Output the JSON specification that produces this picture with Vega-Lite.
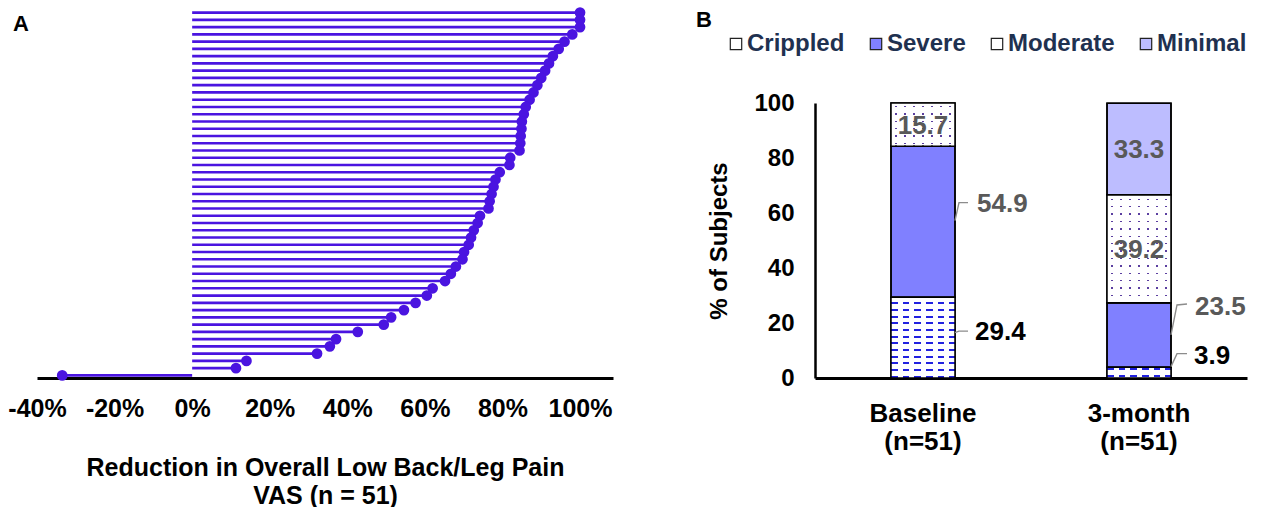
{
  "$schema": "https://vega.github.io/schema/vega-lite/v6.json",
  "background": "white",
  "padding": {"left": 7, "top": 7, "right": 5, "bottom": 5},
  "config": {
    "font": "Liberation Sans",
    "view": {"stroke": null},
    "axis": {"labelFont": "Liberation Sans", "titleFont": "Liberation Sans"},
    "legend": {"labelFont": "Liberation Sans"},
    "title": {"font": "Liberation Sans"}
  },
  "spacing": 83,
  "hconcat": [
    {
      "width": 576,
      "height": 368,
      "title": {"text": "A", "anchor": "start", "frame": "group", "dx": -24, "offset": -29, "fontSize": 22, "fontWeight": "bold", "color": "black"},
      "data": {"values": [
        {"subject": "s01", "reduction": 1.0},
        {"subject": "s02", "reduction": 1.0},
        {"subject": "s03", "reduction": 1.0},
        {"subject": "s04", "reduction": 0.98},
        {"subject": "s05", "reduction": 0.96},
        {"subject": "s06", "reduction": 0.945},
        {"subject": "s07", "reduction": 0.93},
        {"subject": "s08", "reduction": 0.92},
        {"subject": "s09", "reduction": 0.91},
        {"subject": "s10", "reduction": 0.90},
        {"subject": "s11", "reduction": 0.89},
        {"subject": "s12", "reduction": 0.88},
        {"subject": "s13", "reduction": 0.87},
        {"subject": "s14", "reduction": 0.86},
        {"subject": "s15", "reduction": 0.855},
        {"subject": "s16", "reduction": 0.85},
        {"subject": "s17", "reduction": 0.849},
        {"subject": "s18", "reduction": 0.847},
        {"subject": "s19", "reduction": 0.846},
        {"subject": "s20", "reduction": 0.844},
        {"subject": "s21", "reduction": 0.82},
        {"subject": "s22", "reduction": 0.818},
        {"subject": "s23", "reduction": 0.793},
        {"subject": "s24", "reduction": 0.782},
        {"subject": "s25", "reduction": 0.777},
        {"subject": "s26", "reduction": 0.772},
        {"subject": "s27", "reduction": 0.767},
        {"subject": "s28", "reduction": 0.764},
        {"subject": "s29", "reduction": 0.742},
        {"subject": "s30", "reduction": 0.736},
        {"subject": "s31", "reduction": 0.726},
        {"subject": "s32", "reduction": 0.719},
        {"subject": "s33", "reduction": 0.713},
        {"subject": "s34", "reduction": 0.701},
        {"subject": "s35", "reduction": 0.697},
        {"subject": "s36", "reduction": 0.68},
        {"subject": "s37", "reduction": 0.667},
        {"subject": "s38", "reduction": 0.652},
        {"subject": "s39", "reduction": 0.62},
        {"subject": "s40", "reduction": 0.605},
        {"subject": "s41", "reduction": 0.576},
        {"subject": "s42", "reduction": 0.546},
        {"subject": "s43", "reduction": 0.513},
        {"subject": "s44", "reduction": 0.494},
        {"subject": "s45", "reduction": 0.427},
        {"subject": "s46", "reduction": 0.371},
        {"subject": "s47", "reduction": 0.355},
        {"subject": "s48", "reduction": 0.322},
        {"subject": "s49", "reduction": 0.14},
        {"subject": "s50", "reduction": 0.113},
        {"subject": "s51", "reduction": -0.335}
      ]},
      "encoding": {
        "x": {
          "field": "reduction",
          "type": "quantitative",
          "scale": {"domain": [-0.4, 1.085], "nice": false, "zero": false},
          "axis": {
            "values": [-0.4, -0.2, 0, 0.2, 0.4, 0.6, 0.8, 1.0],
            "labelExpr": "round(datum.value * 100) + '%'",
            "labelFontSize": 25,
            "labelFontWeight": "bold",
            "labelColor": "black",
            "labelPadding": 18,
            "labelFlush": false,
            "labelOverlap": false,
            "ticks": false,
            "grid": false,
            "domainColor": "black",
            "domainWidth": 3,
            "title": ["Reduction in Overall Low Back/Leg Pain", "VAS (n = 51)"],
            "titleFontSize": 25,
            "titleFontWeight": "bold",
            "titleColor": "black",
            "titlePadding": 34,
            "titleLineHeight": 28
          }
        }
      },
      "layer": [
        {
          "mark": {"type": "rule", "color": "#4A14E0", "strokeWidth": 2.6},
          "encoding": {
            "x2": {"datum": 0},
            "y": {"field": "subject", "type": "ordinal", "sort": {"field": "reduction", "op": "max", "order": "descending"}, "scale": {"type": "point", "padding": 0.36}, "axis": null}
          }
        },
        {
          "mark": {"type": "circle", "color": "#4A14E0", "size": 115, "opacity": 1},
          "encoding": {
            "y": {"field": "subject", "type": "ordinal", "sort": {"field": "reduction", "op": "max", "order": "descending"}, "scale": {"type": "point", "padding": 0.36}, "axis": null}
          }
        },
        {
          "data": {"values": [{"zero": 0}]},
          "mark": {"type": "rule", "color": "black", "strokeWidth": 2.6},
          "encoding": {"x": {"datum": 0}}
        }
      ]
    },
    {
      "width": 432,
      "height": 368,
      "title": {"text": "B", "anchor": "start", "frame": "group", "dx": -119, "offset": -22, "fontSize": 22, "fontWeight": "bold", "color": "black"},
      "data": {"values": [
        {"time": "Baseline", "cat": "Crippled", "level": 4, "pct": 29.4},
        {"time": "Baseline", "cat": "Severe", "level": 3, "pct": 54.9},
        {"time": "Baseline", "cat": "Moderate", "level": 2, "pct": 15.7},
        {"time": "3-month", "cat": "Crippled", "level": 4, "pct": 3.9},
        {"time": "3-month", "cat": "Severe", "level": 3, "pct": 23.5},
        {"time": "3-month", "cat": "Moderate", "level": 2, "pct": 39.2},
        {"time": "3-month", "cat": "Minimal", "level": 1, "pct": 33.3}
      ]},
      "encoding": {
        "x": {
          "field": "time",
          "type": "nominal",
          "sort": ["Baseline", "3-month"],
          "scale": {"paddingInner": 0, "paddingOuter": 0},
          "axis": {
            "title": null,
            "labelExpr": "[datum.label, '(n=51)']",
            "labelAngle": 0,
            "labelFontSize": 26,
            "labelFontWeight": "bold",
            "labelColor": "black",
            "labelPadding": 22,
            "labelLineHeight": 28,
            "ticks": false,
            "domainColor": "black",
            "domainWidth": 3
          }
        },
        "y": {
          "field": "pct",
          "type": "quantitative",
          "stack": "zero",
          "title": "% of Subjects",
          "scale": {"domain": [0, 100], "nice": false, "range": [368, 93]},
          "axis": {
            "values": [0, 20, 40, 60, 80, 100],
            "labelFontSize": 24,
            "labelFontWeight": "bold",
            "labelColor": "black",
            "labelPadding": 21,
            "ticks": false,
            "grid": false,
            "domainColor": "black",
            "domainWidth": 2.5,
            "titleFontSize": 24,
            "titleFontWeight": "bold",
            "titleColor": "black",
            "titlePadding": 22
          }
        },
        "color": {
          "field": "cat",
          "type": "nominal",
          "scale": {"domain": ["Crippled", "Severe", "Moderate", "Minimal"], "range": ["#FFFFFF", "#8080FF", "#FFFFFF", "#BDBDFF"]},
          "legend": {
            "orient": "none",
            "legendX": 687,
            "legendY": 22,
            "direction": "horizontal",
            "title": null,
            "gridAlign": "none",
            "symbolType": "square",
            "symbolSize": 130,
            "symbolStrokeColor": "#222222",
            "symbolStrokeWidth": 1.2,
            "labelFontSize": 24,
            "labelFontWeight": "bold",
            "labelColor": "#1F3150",
            "columnPadding": 19,
            "labelOffset": -1
          }
        },
        "order": {"field": "level", "type": "quantitative", "sort": "descending"}
      },
      "layer": [
        {
          "mark": {"type": "bar", "size": 64, "stroke": "black", "strokeWidth": 1.5}
        },
        {
          "mark": {"type": "bar", "size": 64},
          "encoding": {
            "fill": {
              "condition": [
                {"test": "datum.time === 'Baseline' && datum.cat === 'Crippled'", "value": {"gradient": "linear", "x1": 0, "y1": 0, "x2": 0, "y2": 1, "stops": [
                  {"offset": 0, "color": "#FFFFFF"},
                  {"offset": 0.0656, "color": "#FFFFFF"}, {"offset": 0.0656, "color": "#2222E0"}, {"offset": 0.0878, "color": "#2222E0"}, {"offset": 0.0878, "color": "#FFFFFF"},
                  {"offset": 0.1481, "color": "#FFFFFF"}, {"offset": 0.1481, "color": "#2222E0"}, {"offset": 0.1703, "color": "#2222E0"}, {"offset": 0.1703, "color": "#FFFFFF"},
                  {"offset": 0.2306, "color": "#FFFFFF"}, {"offset": 0.2306, "color": "#2222E0"}, {"offset": 0.2528, "color": "#2222E0"}, {"offset": 0.2528, "color": "#FFFFFF"},
                  {"offset": 0.3131, "color": "#FFFFFF"}, {"offset": 0.3131, "color": "#2222E0"}, {"offset": 0.3353, "color": "#2222E0"}, {"offset": 0.3353, "color": "#FFFFFF"},
                  {"offset": 0.3956, "color": "#FFFFFF"}, {"offset": 0.3956, "color": "#2222E0"}, {"offset": 0.4178, "color": "#2222E0"}, {"offset": 0.4178, "color": "#FFFFFF"},
                  {"offset": 0.4781, "color": "#FFFFFF"}, {"offset": 0.4781, "color": "#2222E0"}, {"offset": 0.5003, "color": "#2222E0"}, {"offset": 0.5003, "color": "#FFFFFF"},
                  {"offset": 0.5606, "color": "#FFFFFF"}, {"offset": 0.5606, "color": "#2222E0"}, {"offset": 0.5828, "color": "#2222E0"}, {"offset": 0.5828, "color": "#FFFFFF"},
                  {"offset": 0.6431, "color": "#FFFFFF"}, {"offset": 0.6431, "color": "#2222E0"}, {"offset": 0.6653, "color": "#2222E0"}, {"offset": 0.6653, "color": "#FFFFFF"},
                  {"offset": 0.7256, "color": "#FFFFFF"}, {"offset": 0.7256, "color": "#2222E0"}, {"offset": 0.7478, "color": "#2222E0"}, {"offset": 0.7478, "color": "#FFFFFF"},
                  {"offset": 0.8081, "color": "#FFFFFF"}, {"offset": 0.8081, "color": "#2222E0"}, {"offset": 0.8303, "color": "#2222E0"}, {"offset": 0.8303, "color": "#FFFFFF"},
                  {"offset": 0.8906, "color": "#FFFFFF"}, {"offset": 0.8906, "color": "#2222E0"}, {"offset": 0.9128, "color": "#2222E0"}, {"offset": 0.9128, "color": "#FFFFFF"},
                  {"offset": 0.9731, "color": "#FFFFFF"}, {"offset": 0.9731, "color": "#2222E0"}, {"offset": 0.9953, "color": "#2222E0"}, {"offset": 0.9953, "color": "#FFFFFF"},
                  {"offset": 1, "color": "#FFFFFF"}
                ]}},
                {"test": "datum.time === '3-month' && datum.cat === 'Crippled'", "value": {"gradient": "linear", "x1": 0, "y1": 0, "x2": 0, "y2": 1, "stops": [
                  {"offset": 0, "color": "#FFFFFF"},
                  {"offset": 0.0746, "color": "#FFFFFF"}, {"offset": 0.0746, "color": "#2222E0"}, {"offset": 0.2424, "color": "#2222E0"}, {"offset": 0.2424, "color": "#FFFFFF"},
                  {"offset": 0.6993, "color": "#FFFFFF"}, {"offset": 0.6993, "color": "#2222E0"}, {"offset": 0.8671, "color": "#2222E0"}, {"offset": 0.8671, "color": "#FFFFFF"},
                  {"offset": 1, "color": "#FFFFFF"}
                ]}},
                {"test": "datum.time === 'Baseline' && datum.cat === 'Moderate'", "value": {"gradient": "linear", "x1": 0, "y1": 0, "x2": 0, "y2": 1, "stops": [
                  {"offset": 0, "color": "#FFFFFF"},
                  {"offset": 0.0649, "color": "#FFFFFF"}, {"offset": 0.0649, "color": "#5B3FA0"}, {"offset": 0.0973, "color": "#5B3FA0"}, {"offset": 0.0973, "color": "#FFFFFF"},
                  {"offset": 0.2362, "color": "#FFFFFF"}, {"offset": 0.2362, "color": "#5B3FA0"}, {"offset": 0.2687, "color": "#5B3FA0"}, {"offset": 0.2687, "color": "#FFFFFF"},
                  {"offset": 0.4076, "color": "#FFFFFF"}, {"offset": 0.4076, "color": "#5B3FA0"}, {"offset": 0.4401, "color": "#5B3FA0"}, {"offset": 0.4401, "color": "#FFFFFF"},
                  {"offset": 0.5790, "color": "#FFFFFF"}, {"offset": 0.5790, "color": "#5B3FA0"}, {"offset": 0.6115, "color": "#5B3FA0"}, {"offset": 0.6115, "color": "#FFFFFF"},
                  {"offset": 0.7504, "color": "#FFFFFF"}, {"offset": 0.7504, "color": "#5B3FA0"}, {"offset": 0.7829, "color": "#5B3FA0"}, {"offset": 0.7829, "color": "#FFFFFF"},
                  {"offset": 0.9218, "color": "#FFFFFF"}, {"offset": 0.9218, "color": "#5B3FA0"}, {"offset": 0.9543, "color": "#5B3FA0"}, {"offset": 0.9543, "color": "#FFFFFF"},
                  {"offset": 1, "color": "#FFFFFF"}
                ]}},
                {"test": "datum.time === '3-month' && datum.cat === 'Moderate'", "value": {"gradient": "linear", "x1": 0, "y1": 0, "x2": 0, "y2": 1, "stops": [
                  {"offset": 0, "color": "#FFFFFF"},
                  {"offset": 0.0353, "color": "#FFFFFF"}, {"offset": 0.0353, "color": "#5B3FA0"}, {"offset": 0.0482, "color": "#5B3FA0"}, {"offset": 0.0482, "color": "#FFFFFF"},
                  {"offset": 0.1039, "color": "#FFFFFF"}, {"offset": 0.1039, "color": "#5B3FA0"}, {"offset": 0.1169, "color": "#5B3FA0"}, {"offset": 0.1169, "color": "#FFFFFF"},
                  {"offset": 0.1725, "color": "#FFFFFF"}, {"offset": 0.1725, "color": "#5B3FA0"}, {"offset": 0.1855, "color": "#5B3FA0"}, {"offset": 0.1855, "color": "#FFFFFF"},
                  {"offset": 0.2412, "color": "#FFFFFF"}, {"offset": 0.2412, "color": "#5B3FA0"}, {"offset": 0.2542, "color": "#5B3FA0"}, {"offset": 0.2542, "color": "#FFFFFF"},
                  {"offset": 0.3098, "color": "#FFFFFF"}, {"offset": 0.3098, "color": "#5B3FA0"}, {"offset": 0.3228, "color": "#5B3FA0"}, {"offset": 0.3228, "color": "#FFFFFF"},
                  {"offset": 0.3785, "color": "#FFFFFF"}, {"offset": 0.3785, "color": "#5B3FA0"}, {"offset": 0.3915, "color": "#5B3FA0"}, {"offset": 0.3915, "color": "#FFFFFF"},
                  {"offset": 0.4471, "color": "#FFFFFF"}, {"offset": 0.4471, "color": "#5B3FA0"}, {"offset": 0.4601, "color": "#5B3FA0"}, {"offset": 0.4601, "color": "#FFFFFF"},
                  {"offset": 0.5158, "color": "#FFFFFF"}, {"offset": 0.5158, "color": "#5B3FA0"}, {"offset": 0.5288, "color": "#5B3FA0"}, {"offset": 0.5288, "color": "#FFFFFF"},
                  {"offset": 0.5844, "color": "#FFFFFF"}, {"offset": 0.5844, "color": "#5B3FA0"}, {"offset": 0.5974, "color": "#5B3FA0"}, {"offset": 0.5974, "color": "#FFFFFF"},
                  {"offset": 0.6531, "color": "#FFFFFF"}, {"offset": 0.6531, "color": "#5B3FA0"}, {"offset": 0.6660, "color": "#5B3FA0"}, {"offset": 0.6660, "color": "#FFFFFF"},
                  {"offset": 0.7217, "color": "#FFFFFF"}, {"offset": 0.7217, "color": "#5B3FA0"}, {"offset": 0.7347, "color": "#5B3FA0"}, {"offset": 0.7347, "color": "#FFFFFF"},
                  {"offset": 0.7904, "color": "#FFFFFF"}, {"offset": 0.7904, "color": "#5B3FA0"}, {"offset": 0.8033, "color": "#5B3FA0"}, {"offset": 0.8033, "color": "#FFFFFF"},
                  {"offset": 0.8590, "color": "#FFFFFF"}, {"offset": 0.8590, "color": "#5B3FA0"}, {"offset": 0.8720, "color": "#5B3FA0"}, {"offset": 0.8720, "color": "#FFFFFF"},
                  {"offset": 0.9276, "color": "#FFFFFF"}, {"offset": 0.9276, "color": "#5B3FA0"}, {"offset": 0.9406, "color": "#5B3FA0"}, {"offset": 0.9406, "color": "#FFFFFF"},
                  {"offset": 1, "color": "#FFFFFF"}
                ]}}
              ],
              "value": "transparent"
            }
          }
        },
        {
          "mark": {"type": "bar", "size": 64, "stroke": "black", "strokeWidth": 1.5},
          "encoding": {
            "fill": {
              "condition": [
                {"test": "datum.cat === 'Crippled'", "value": {"gradient": "linear", "x1": 0, "y1": 0, "x2": 1, "y2": 0, "stops": [
                  {"offset": 0, "color": "rgba(255,255,255,0)"}, {"offset": 0.1042, "color": "rgba(255,255,255,0)"},
                  {"offset": 0.1042, "color": "#FFFFFF"}, {"offset": 0.1823, "color": "#FFFFFF"},
                  {"offset": 0.1823, "color": "rgba(255,255,255,0)"}, {"offset": 0.2865, "color": "rgba(255,255,255,0)"},
                  {"offset": 0.2865, "color": "#FFFFFF"}, {"offset": 0.3646, "color": "#FFFFFF"},
                  {"offset": 0.3646, "color": "rgba(255,255,255,0)"}, {"offset": 0.4688, "color": "rgba(255,255,255,0)"},
                  {"offset": 0.4688, "color": "#FFFFFF"}, {"offset": 0.5469, "color": "#FFFFFF"},
                  {"offset": 0.5469, "color": "rgba(255,255,255,0)"}, {"offset": 0.6510, "color": "rgba(255,255,255,0)"},
                  {"offset": 0.6510, "color": "#FFFFFF"}, {"offset": 0.7292, "color": "#FFFFFF"},
                  {"offset": 0.7292, "color": "rgba(255,255,255,0)"}, {"offset": 0.8333, "color": "rgba(255,255,255,0)"},
                  {"offset": 0.8333, "color": "#FFFFFF"}, {"offset": 0.9115, "color": "#FFFFFF"},
                  {"offset": 0.9115, "color": "rgba(255,255,255,0)"}, {"offset": 1, "color": "rgba(255,255,255,0)"}
                ]}},
                {"test": "datum.cat === 'Moderate'", "value": {"gradient": "linear", "x1": 0, "y1": 0, "x2": 1, "y2": 0, "stops": [
                  {"offset": 0, "color": "#FFFFFF"}, {"offset": 0.0672, "color": "#FFFFFF"},
                  {"offset": 0.0672, "color": "rgba(255,255,255,0)"}, {"offset": 0.0891, "color": "rgba(255,255,255,0)"},
                  {"offset": 0.0891, "color": "#FFFFFF"}, {"offset": 0.2078, "color": "#FFFFFF"},
                  {"offset": 0.2078, "color": "rgba(255,255,255,0)"}, {"offset": 0.2297, "color": "rgba(255,255,255,0)"},
                  {"offset": 0.2297, "color": "#FFFFFF"}, {"offset": 0.3484, "color": "#FFFFFF"},
                  {"offset": 0.3484, "color": "rgba(255,255,255,0)"}, {"offset": 0.3703, "color": "rgba(255,255,255,0)"},
                  {"offset": 0.3703, "color": "#FFFFFF"}, {"offset": 0.4891, "color": "#FFFFFF"},
                  {"offset": 0.4891, "color": "rgba(255,255,255,0)"}, {"offset": 0.5109, "color": "rgba(255,255,255,0)"},
                  {"offset": 0.5109, "color": "#FFFFFF"}, {"offset": 0.6297, "color": "#FFFFFF"},
                  {"offset": 0.6297, "color": "rgba(255,255,255,0)"}, {"offset": 0.6516, "color": "rgba(255,255,255,0)"},
                  {"offset": 0.6516, "color": "#FFFFFF"}, {"offset": 0.7703, "color": "#FFFFFF"},
                  {"offset": 0.7703, "color": "rgba(255,255,255,0)"}, {"offset": 0.7922, "color": "rgba(255,255,255,0)"},
                  {"offset": 0.7922, "color": "#FFFFFF"}, {"offset": 0.9109, "color": "#FFFFFF"},
                  {"offset": 0.9109, "color": "rgba(255,255,255,0)"}, {"offset": 0.9328, "color": "rgba(255,255,255,0)"},
                  {"offset": 0.9328, "color": "#FFFFFF"}, {"offset": 1, "color": "#FFFFFF"}
                ]}}
              ],
              "value": "transparent"
            }
          }
        },
        {
          "mark": {"type": "text", "fontSize": 26, "fontWeight": "bold", "baseline": "middle", "align": "center", "dy": 1},
          "encoding": {
            "y": {"field": "pct", "type": "quantitative", "stack": "zero", "bandPosition": 0.5, "title": "% of Subjects"},
            "fill": {"value": "#595959"},
            "text": {"condition": {"test": "(datum.time === 'Baseline' && datum.cat === 'Moderate') || (datum.time === '3-month' && (datum.cat === 'Moderate' || datum.cat === 'Minimal'))", "field": "pct", "type": "quantitative", "format": ".1f"}, "value": ""}
          }
        },
        {
          "mark": {"type": "text", "fontSize": 26, "fontWeight": "bold", "baseline": "middle", "align": "left", "dx": 54, "dy": -18},
          "encoding": {
            "y": {"field": "pct", "type": "quantitative", "stack": "zero", "bandPosition": 0.5, "title": "% of Subjects"},
            "fill": {"value": "#595959"},
            "text": {"condition": {"test": "datum.time === 'Baseline' && datum.cat === 'Severe'", "field": "pct", "type": "quantitative", "format": ".1f"}, "value": ""}
          }
        },
        {
          "mark": {"type": "text", "fontSize": 26, "fontWeight": "bold", "baseline": "middle", "align": "left", "dx": 52, "dy": -6},
          "encoding": {
            "y": {"field": "pct", "type": "quantitative", "stack": "zero", "bandPosition": 0.5, "title": "% of Subjects"},
            "fill": {"value": "#000000"},
            "text": {"condition": {"test": "datum.time === 'Baseline' && datum.cat === 'Crippled'", "field": "pct", "type": "quantitative", "format": ".1f"}, "value": ""}
          }
        },
        {
          "mark": {"type": "text", "fontSize": 26, "fontWeight": "bold", "baseline": "middle", "align": "left", "dx": 56, "dy": -28},
          "encoding": {
            "y": {"field": "pct", "type": "quantitative", "stack": "zero", "bandPosition": 0.5, "title": "% of Subjects"},
            "fill": {"value": "#595959"},
            "text": {"condition": {"test": "datum.time === '3-month' && datum.cat === 'Severe'", "field": "pct", "type": "quantitative", "format": ".1f"}, "value": ""}
          }
        },
        {
          "mark": {"type": "text", "fontSize": 26, "fontWeight": "bold", "baseline": "middle", "align": "left", "dx": 55, "dy": -17},
          "encoding": {
            "y": {"field": "pct", "type": "quantitative", "stack": "zero", "bandPosition": 0.5, "title": "% of Subjects"},
            "fill": {"value": "#000000"},
            "text": {"condition": {"test": "datum.time === '3-month' && datum.cat === 'Crippled'", "field": "pct", "type": "quantitative", "format": ".1f"}, "value": ""}
          }
        },
        {
          "mark": {"type": "point", "filled": false, "size": 4, "strokeWidth": 1.4, "xOffset": 32, "opacity": 1},
          "encoding": {
            "y": {"field": "pct", "type": "quantitative", "stack": "zero", "bandPosition": 0.5, "title": "% of Subjects"},
            "stroke": {"value": "#8C8C8C"},
            "strokeOpacity": {"condition": {"test": "datum.cat === 'Severe' || datum.cat === 'Crippled'", "value": 1}, "value": 0},
            "shape": {
              "condition": [
                {"test": "datum.time === 'Baseline' && datum.cat === 'Severe'", "value": "M0,-1L4,-19L13,-19"},
                {"test": "datum.time === 'Baseline' && datum.cat === 'Crippled'", "value": "M0,-5L4,-6.5L13,-6.5"},
                {"test": "datum.time === '3-month' && datum.cat === 'Severe'", "value": "M0,0L6,-30L16,-31"},
                {"test": "datum.time === '3-month' && datum.cat === 'Crippled'", "value": "M0,-6L6,-19L16,-19"}
              ],
              "value": "M0,0L0,0"
            }
          }
        }
      ]
    }
  ]
}
